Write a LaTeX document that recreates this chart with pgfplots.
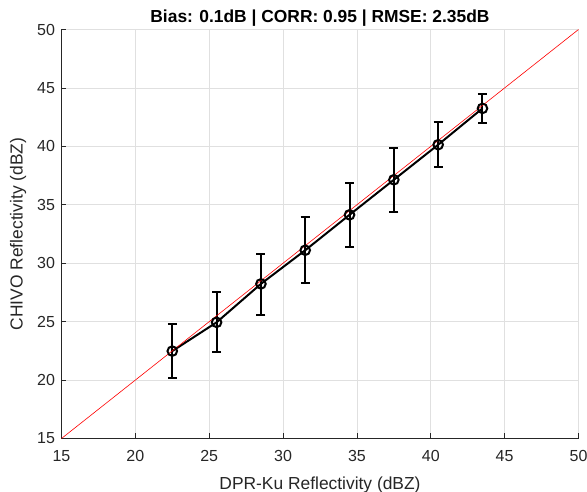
\documentclass[border=0pt]{standalone}
\usepackage{fontspec}
\setmainfont{Liberation Sans}
\usepackage{pgfplots}
\pgfplotsset{compat=1.18}
\begin{document}
\begin{tikzpicture}
\begin{axis}[
  at={(0,0)}, anchor=south west,
  scale only axis,
  width=517pt, height=409pt,
  xmin=15, xmax=50, ymin=15, ymax=50,
  xtick={15,20,...,50}, ytick={15,20,...,50},
  axis x line=bottom, axis y line=left,
  axis line style={-, black!85, line width=0.6pt},
  tick style={black!85, line width=0.6pt},
  tick align=inside,
  major tick length=5pt,
  grid=major,
  grid style={black!12, line width=0.6pt},
  tick label style={font=\fontsize{16}{18}\selectfont, text=black!85},
  xticklabel style={yshift=-8pt},
  yticklabel style={xshift=-3pt},
  /pgf/number format/assume math mode=true,
  xlabel={DPR-Ku Reflectivity (dBZ)},
  ylabel={CHIVO Reflectivity (dBZ)},
  label style={font=\fontsize{17.4}{19}\selectfont, text=black!85},
  xlabel style={yshift=-9pt},
  ylabel style={yshift=4pt},
  title={\textbf{Bias: 0.1dB | CORR: 0.95 | RMSE: 2.35dB}},
  title style={font=\fontsize{17.4}{19}\selectfont, yshift=-6pt},
  clip=false,
  every error bar/.append style={line width=2pt},
]
\addplot[black, line width=2pt, mark=o, mark size=4.8pt,
  mark options={line width=2pt},
  error bars/.cd, y dir=both, y explicit,
  error bar style={line width=2pt},
  error mark options={rotate=90, mark size=4.5pt, line width=2pt}]
coordinates {
  (22.5,22.48) += (0,2.29) -= (0,2.28)
  (25.5,24.94) += (0,2.57) -= (0,2.57)
  (28.5,28.23) += (0,2.60) -= (0,2.66)
  (31.5,31.11) += (0,2.83) -= (0,2.77)
  (34.5,34.14) += (0,2.74) -= (0,2.72)
  (37.5,37.14) += (0,2.72) -= (0,2.80)
  (40.5,40.14) += (0,1.91) -= (0,1.91)
  (43.5,43.25) += (0,1.26) -= (0,1.25)
};
\addplot[red, line width=0.6pt] coordinates {(15,15) (50,50)};
\end{axis}
\pgfresetboundingbox
\path[use as bounding box] (-61.5pt,-53.5pt) rectangle (525.5pt,438.5pt);
\end{tikzpicture}
\end{document}
